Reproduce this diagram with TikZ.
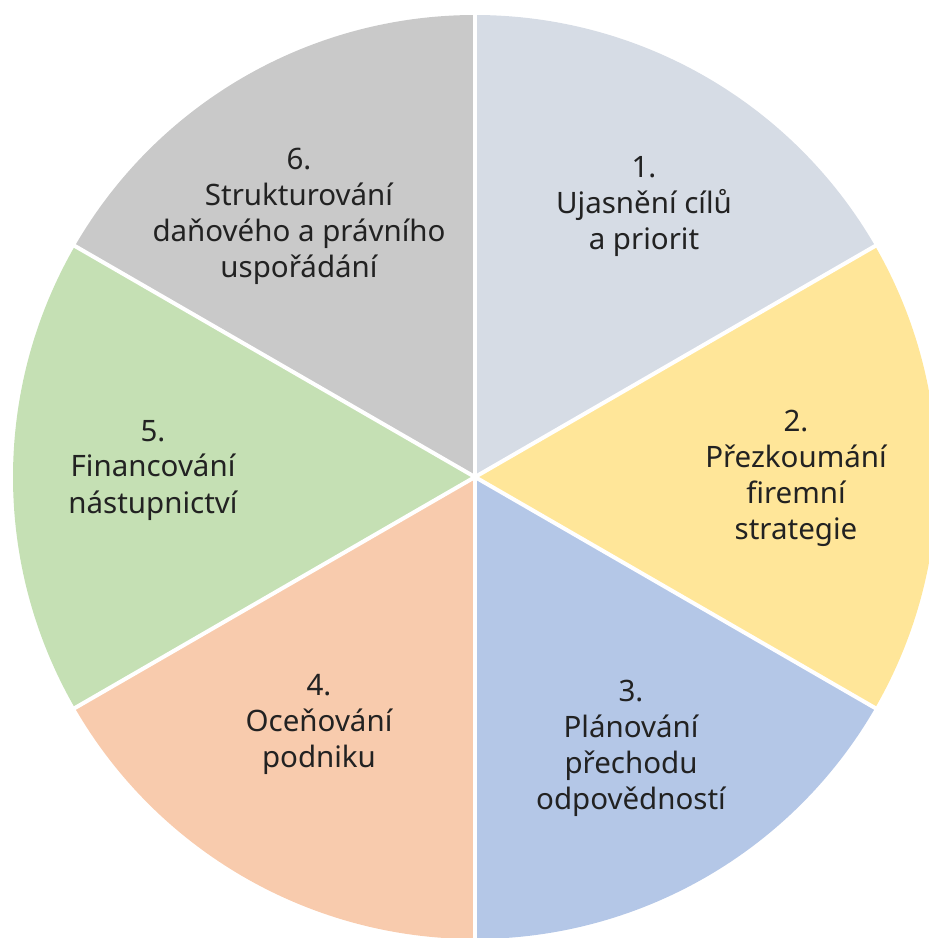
\documentclass[tikz,border=0pt]{standalone}
\usepackage{fontspec}
\setmainfont{Noto Sans}
\definecolor{segA}{HTML}{D6DCE5}
\definecolor{segB}{HTML}{FFE699}
\definecolor{segC}{HTML}{B4C7E7}
\definecolor{segD}{HTML}{F8CBAD}
\definecolor{segE}{HTML}{C5E0B4}
\definecolor{segF}{HTML}{C9C9C9}
\definecolor{labelink}{HTML}{222222}
\begin{document}
\begin{tikzpicture}[x=1pt,y=1pt,
  label/.style={align=center,inner sep=0pt,text=labelink,
    font=\fontsize{29.5}{36}\selectfont},
  divider/.style={draw=white,line width=4pt}]
\useasboundingbox (0,0) rectangle (929,-938);
\begin{scope}
  \clip (0,0) rectangle (929,-938);
  \coordinate (C) at (475,-477);
  \def\rad{462}
  % six equal sectors, clockwise from the top
  \fill[segA] (C) -- ++(30:\rad) arc[start angle=30,end angle=90,radius=\rad] -- cycle;
  \fill[segB] (C) -- ++(-30:\rad) arc[start angle=-30,end angle=30,radius=\rad] -- cycle;
  \fill[segC] (C) -- ++(-90:\rad) arc[start angle=-90,end angle=-30,radius=\rad] -- cycle;
  \fill[segD] (C) -- ++(-150:\rad) arc[start angle=-150,end angle=-90,radius=\rad] -- cycle;
  \fill[segE] (C) -- ++(150:\rad) arc[start angle=150,end angle=210,radius=\rad] -- cycle;
  \fill[segF] (C) -- ++(90:\rad) arc[start angle=90,end angle=150,radius=\rad] -- cycle;
  % white gaps between sectors
  \foreach \a in {90,30,-30,-90,-150,150}
    \draw[divider] (C) -- ++(\a:\rad+6);
\end{scope}
\node[label] (s1) at (644,-207) {1.\\Ujasnění cílů\\a priorit};
\node[label] (s2) at (796,-478) {2.\\Přezkoumání\\firemní\\strategie};
\node[label] (s3) at (631,-748) {3.\\Plánování\\přechodu\\odpovědností};
\node[label] (s4) at (319,-724) {4.\\Oceňování\\podniku};
\node[label] (s5) at (153,-470) {5.\\Financování\\nástupnictví};
\node[label] (s6) at (299,-216) {6.\\Strukturování\\daňového a právního\\uspořádání};
\end{tikzpicture}
\end{document}
